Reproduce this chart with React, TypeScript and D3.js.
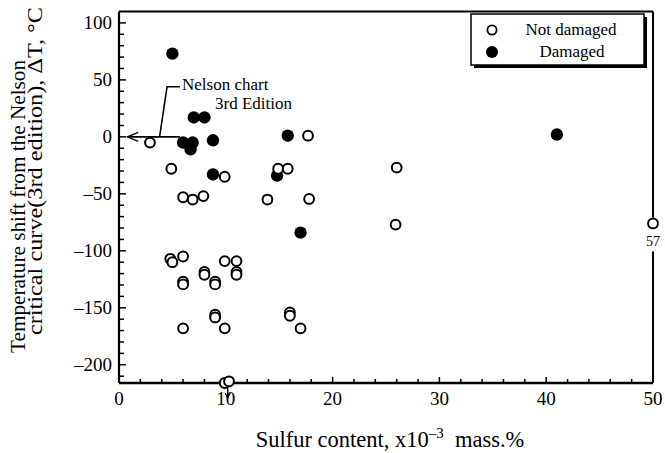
import React from "react";
import * as d3 from "d3";

// ---- data ----
const damagedX = [5, 7, 8, 6, 6.9, 6.7, 8.8, 15.8, 8.8, 14.8, 17, 41];
const damagedY = [73, 17, 17, -5, -5, -11, -3, 1, -33, -34, -84, 2];

const notDamagedX = [2.9, 4.9, 9.9, 14.9, 15.8, 17.7, 26, 6, 6.9, 7.9, 13.9, 17.8, 25.9, 57,
  4.8, 5, 6, 9.9, 11, 11, 11, 8, 8, 6, 6, 9, 9, 9, 9, 16, 16, 6, 9.9, 17, 9.9, 10.3];
const notDamagedY = [-5, -28, -35, -28, -28, 1, -27, -53, -55, -52, -55, -54.5, -77, -76,
  -107, -110, -105, -109, -109, -118.5, -121, -118.5, -121, -127, -129.5, -127, -129.5, -156, -158.5,
  -154, -157, -168, -168, -168, -216, -214.5];

const xTicks = [0, 10, 20, 30, 40, 50];
const yTicks = [100, 50, 0, -50, -100, -150, -200];
const legendLabels = ["Not damaged", "Damaged"];

const FONT = '"Liberation Serif", "Times New Roman", Times, "DejaVu Serif", serif';

export default function App() {
  const W = 665, H = 453;
  const x = d3.scaleLinear().domain([0, 50]).range([119, 653]);
  const y = d3.scaleLinear().domain([-216, 110]).range([383, 11.5]);
  const xc = (v: number) => x(Math.min(v, 50));
  const yc = (v: number) => y(Math.max(v, -216));

  const xMinor = d3.range(0, 50.01, 2);
  const yMinor = d3.range(-210, 110, 10);

  const dmg = damagedX.map((v, i) => ({ x: v, y: damagedY[i] }));
  const nd = notDamagedX.map((v, i) => ({ x: v, y: notDamagedY[i] }));
  const off = nd.find((d) => d.x > 50)!;
  const offY = yc(off.y);
  const bottom = nd.filter((d) => d.y <= -214);
  const arrowX = xc(bottom[0].x) + 3;
  const ts = { fontFamily: FONT } as React.CSSProperties;

  return (
    <svg width={W} height={H} style={{ position: "absolute", left: 0, top: 0, background: "#fff", fontFamily: FONT }}>
      {/* frame */}
      <line x1={x(0)} x2={x(50)} y1={y(110)} y2={y(110)} stroke="#000" strokeWidth={2} />
      <line x1={x(0)} x2={x(0)} y1={y(110)} y2={y(-216)} stroke="#000" strokeWidth={2.2} />
      <line x1={x(0)} x2={x(50)} y1={y(-216)} y2={y(-216)} stroke="#000" strokeWidth={2.6} />
      <line x1={x(50)} x2={x(50)} y1={y(110)} y2={offY - 6} stroke="#000" strokeWidth={2} />
      <line x1={x(50)} x2={x(50)} y1={offY + 28} y2={y(-216)} stroke="#000" strokeWidth={2} />

      {/* ticks */}
      {xMinor.map((t) => (
        <line key={"xm" + t} x1={x(t)} x2={x(t)} y1={y(-216)} y2={y(-216) - (t % 10 === 0 ? 6 : 4)}
          stroke="#000" strokeWidth={1.5} />
      ))}
      {yMinor.map((t) => (
        <line key={"ym" + t} x1={x(0)} x2={x(0) + (t % 50 === 0 ? 7 : 5)} y1={y(t)} y2={y(t)}
          stroke="#000" strokeWidth={1.5} />
      ))}
      {xTicks.map((t) => (
        <text key={"xt" + t} style={ts} x={x(t)} y={405} textAnchor="middle" fontSize={19}>{t}</text>
      ))}
      {yTicks.map((t) => (
        <text key={"yt" + t} style={ts} x={112} y={y(t) + 6.5} textAnchor="end" fontSize={19}>
          {t < 0 ? "\u2013" + Math.abs(t) : t}
        </text>
      ))}

      {/* axis titles */}
      <text style={ts} x={390} y={447} textAnchor="middle" fontSize={22.5}>
        Sulfur content, x10<tspan fontSize={15} dy={-9}>{"\u20133"}</tspan>
        <tspan dy={9}>{"\u00a0 mass.%"}</tspan>
      </text>
      <text style={ts} transform={`translate(25,353) rotate(-90)`} fontSize={21}
        textLength={293} lengthAdjust="spacingAndGlyphs">Temperature shift from the Nelson</text>
      <text style={ts} transform={`translate(42,335) rotate(-90)`} fontSize={22}
        textLength={328} lengthAdjust="spacingAndGlyphs">critical curve(3rd edition), ΔT, °C</text>

      {/* points */}
      {dmg.map((d, i) => (
        <circle key={"d" + i} cx={xc(d.x)} cy={yc(d.y)} r={6.2} fill="#000" />
      ))}
      {nd.map((d, i) => (
        <circle key={"n" + i} cx={xc(d.x)} cy={yc(d.y)} r={4.9} fill="#fff" stroke="#000" strokeWidth={2} />
      ))}
      <text style={ts} x={x(50)} y={offY + 23} textAnchor="middle" fontSize={14}>{off.x}</text>
      {/* off-scale arrow down */}
      <line x1={arrowX} x2={arrowX} y1={y(-216) + 4} y2={y(-216) + 14} stroke="#000" strokeWidth={1.3} />
      <path d={`M${arrowX - 2.5},${y(-216) + 10} L${arrowX},${y(-216) + 15} L${arrowX + 2.5},${y(-216) + 10}`}
        fill="none" stroke="#000" strokeWidth={1.3} />

      {/* Nelson annotation */}
      <path d={`M${x(5.7)},${y(0)} L${x(3.8)},${y(0)} L${x(4.5)},${y(44)} L${x(5.7)},${y(44)}`}
        fill="none" stroke="#000" strokeWidth={1.6} />
      <line x1={x(0.8)} x2={x(3.8)} y1={y(0)} y2={y(0)} stroke="#000" strokeWidth={1.6} />
      <path d={`M${x(1.8)},${y(0) - 4.5} L${x(0.8)},${y(0)} L${x(1.8)},${y(0) + 4.5}`}
        fill="none" stroke="#000" strokeWidth={1.4} />
      <text style={ts} x={182} y={90} fontSize={17}>Nelson chart</text>
      <text style={ts} x={215} y={109} fontSize={17}>3rd Edition</text>

      {/* legend */}
      <rect x={474} y={17} width={173} height={51} fill="#000" />
      <rect x={471} y={14} width={173} height={51} fill="#fff" stroke="#000" strokeWidth={1.5} />
      <circle cx={492} cy={30} r={4.6} fill="#fff" stroke="#000" strokeWidth={1.8} />
      <circle cx={492} cy={52} r={6} fill="#000" />
      <text style={ts} x={571} y={35} textAnchor="middle" fontSize={17}>{legendLabels[0]}</text>
      <text style={ts} x={572} y={57} textAnchor="middle" fontSize={17}>{legendLabels[1]}</text>
    </svg>
  );
}
